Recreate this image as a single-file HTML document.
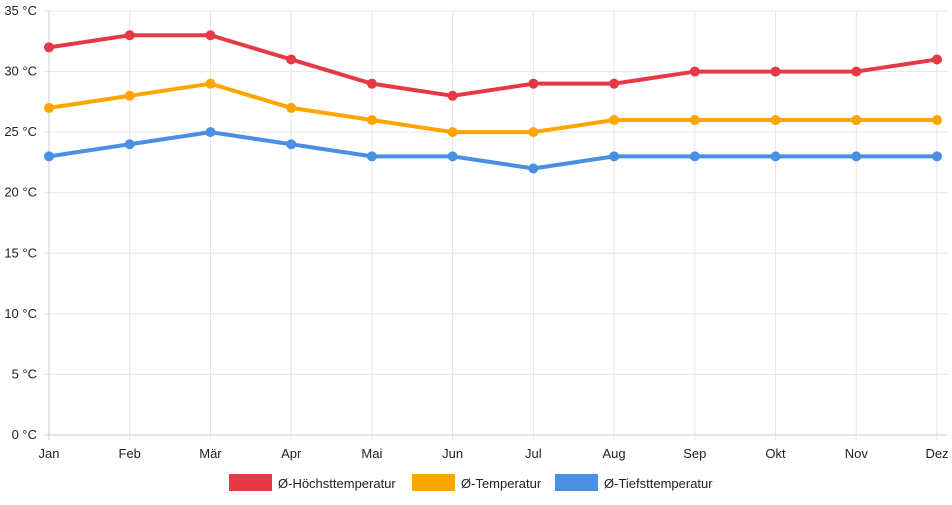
<!DOCTYPE html>
<html><head><meta charset="utf-8"><style>
body{margin:0;background:#fff;font-family:"Liberation Sans",sans-serif;}
svg text{font-family:"Liberation Sans",sans-serif;font-size:13px;fill:#222;}
</style></head><body>
<svg id="c" width="952" height="500"></svg>
<script>
const months=["Jan","Feb","Mär","Apr","Mai","Jun","Jul","Aug","Sep","Okt","Nov","Dez"];
const yTicks=[0,5,10,15,20,25,30,35];
const highTemps=[32,33,33,31,29,28,29,29,30,30,30,31];
const avgTemps=[27,28,29,27,26,25,25,26,26,26,26,26];
const lowTemps=[23,24,25,24,23,23,22,23,23,23,23,23];
const seriesNames=["Ø-Höchsttemperatur","Ø-Temperatur","Ø-Tiefsttemperatur"];
const seriesColors=["#e63946","#ffa500","#4a90e2"];
const svg=document.getElementById('c');const NS="http://www.w3.org/2000/svg";
const X0=49,X1=937,Y0=435,Y1=11;
const x=i=>X0+i*(X1-X0)/(months.length-1);
const y=v=>Y0-v*(Y0-Y1)/35;
function mk(t,a,p){const e=document.createElementNS(NS,t);for(const k in a)e.setAttribute(k,a[k]);(p||svg).appendChild(e);return e;}
yTicks.forEach(v=>{
 const l=mk('line',{x1:X0-5,x2:X1+10,y1:y(v),y2:y(v),stroke:v===0?'#ccc':'#e5e5e5'});
 
 
 const t=mk('text',{x:37,y:y(v)+4,'text-anchor':'end'});t.textContent=v+' °C';
 
 
});
months.forEach((m,i)=>{
 const l=mk('line',{x1:x(i),x2:x(i),y1:Y1,y2:Y0+5,stroke:i===0?'#ccc':'#e5e5e5'});
 
 
 const t=mk('text',{x:x(i),y:458,'text-anchor':'middle'});t.textContent=m;
 
 
});
[highTemps,avgTemps,lowTemps].forEach((s,k)=>{
 const p=mk('polyline',{points:s.map((v,i)=>x(i)+','+y(v)).join(' '),fill:'none',stroke:seriesColors[k],'stroke-width':4,'stroke-linejoin':'round'});
 
 
 s.forEach((v,i)=>{const c=mk('circle',{cx:x(i),cy:y(v),r:5,fill:seriesColors[k]});
 
 });
});
const lx=[229,412,555];
seriesNames.forEach((n,k)=>{
 const r=mk('rect',{x:lx[k],y:474,width:43,height:17,fill:seriesColors[k]});
 
 
 const t=mk('text',{x:lx[k]+49,y:488});t.textContent=n;
 
 
});
</script></body></html>
